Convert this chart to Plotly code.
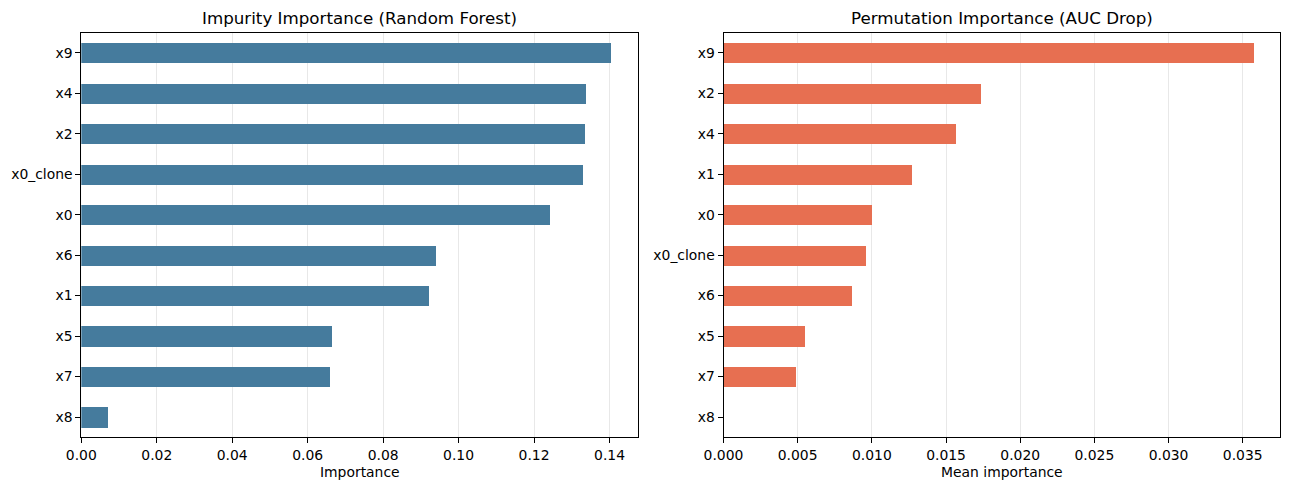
import plotly.graph_objects as go

# Data (bottom to top order)
impurity_features = ["x8", "x7", "x5", "x1", "x6", "x0", "x0_clone", "x2", "x4", "x9"]
impurity_values = [0.0071, 0.0660, 0.0665, 0.0923, 0.0941, 0.1244, 0.1331, 0.1337, 0.1339, 0.1406]

perm_features = ["x8", "x7", "x5", "x6", "x0_clone", "x0", "x1", "x4", "x2", "x9"]
perm_values = [0.0, 0.00488, 0.00549, 0.00866, 0.00954, 0.00995, 0.01265, 0.01562, 0.01731, 0.03574]

left_title = "Impurity Importance (Random Forest)"
right_title = "Permutation Importance (AUC Drop)"
left_xlabel = "Importance"
right_xlabel = "Mean importance"

W, H = 1289, 490
FONT = "DejaVu Sans"
BLUE = "#457b9d"
ORANGE = "#e76f51"

fig = go.Figure()
fig.add_trace(go.Bar(x=impurity_values, y=impurity_features, orientation="h",
                     marker=dict(color=BLUE, line=dict(width=0)), width=0.5,
                     xaxis="x", yaxis="y", showlegend=False))
fig.add_trace(go.Bar(x=perm_values, y=perm_features, orientation="h",
                     marker=dict(color=ORANGE, line=dict(width=0)), width=0.5,
                     xaxis="x2", yaxis="y2", showlegend=False))

ydom = [1 - 437.3 / H, 1 - 32.5 / H]
lx = [81.3 / W, 638.3 / W]
rx = [723.5 / W, 1280.2 / W]

common_x = dict(showline=True, linecolor="black", linewidth=1, mirror=True,
                ticks="outside", ticklen=5, tickwidth=1, tickcolor="black",
                showgrid=True, gridcolor="#e8e8e8", gridwidth=1, zeroline=False,
                automargin=False,
                tickfont=dict(family=FONT, size=13.9, color="black"),
                title_font=dict(family=FONT, size=13.9, color="black"),
                title_standoff=5)
common_y = dict(showline=True, linecolor="black", linewidth=1, mirror=True,
                ticks="outside", ticklen=5, tickwidth=1, tickcolor="black",
                showgrid=False, zeroline=False, type="category",
                range=[-0.5, 9.5], automargin=False,
                tickfont=dict(family=FONT, size=13.9, color="black"))

fig.update_layout(
    width=W, height=H, autosize=False,
    margin=dict(l=0, r=0, t=0, b=0, autoexpand=False),
    paper_bgcolor="white", plot_bgcolor="white",
    font=dict(family=FONT, size=13.9, color="black"),
    bargap=0,
    xaxis=dict(domain=lx, anchor="y", range=[0, max(impurity_values) * 1.05],
               dtick=0.02, tick0=0, tickformat=".2f", title_text=left_xlabel, **common_x),
    yaxis=dict(domain=ydom, anchor="x", categoryorder="array",
               categoryarray=impurity_features, **common_y),
    xaxis2=dict(domain=rx, anchor="y2", range=[0, max(perm_values) * 1.05],
                dtick=0.005, tick0=0, tickformat=".3f", title_text=right_xlabel, **common_x),
    yaxis2=dict(domain=ydom, anchor="x2", categoryorder="array",
                categoryarray=perm_features, **common_y),
    annotations=[
        dict(text=left_title, x=(lx[0] + lx[1]) / 2, y=1 - 18 / H, xref="paper", yref="paper",
             xanchor="center", yanchor="middle", showarrow=False,
             font=dict(family=FONT, size=16.7, color="black")),
        dict(text=right_title, x=(rx[0] + rx[1]) / 2, y=1 - 18 / H, xref="paper", yref="paper",
             xanchor="center", yanchor="middle", showarrow=False,
             font=dict(family=FONT, size=16.7, color="black")),
    ],
)

fig.write_html("out.html")
